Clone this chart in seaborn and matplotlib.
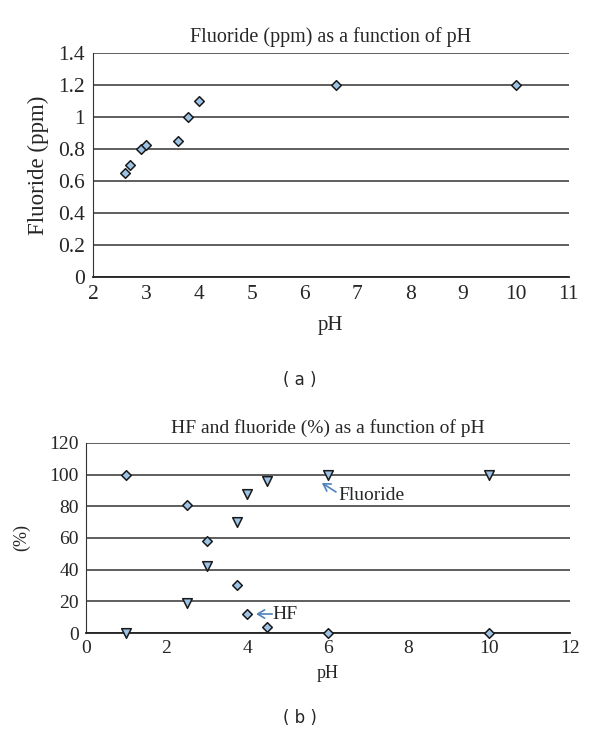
import numpy as np
import pandas as pd
import matplotlib
matplotlib.use('Agg')
import matplotlib.pyplot as plt
import seaborn as sns

# Data
ph_a = [2.6, 2.7, 2.9, 3.0, 3.6, 3.8, 4.0, 6.6, 10.0]
fluoride_ppm = [0.65, 0.70, 0.80, 0.83, 0.85, 1.00, 1.10, 1.20, 1.20]

ph_b = [1.0, 2.5, 3.0, 3.75, 4.0, 4.5, 6.0, 10.0]
hf_pct = [100, 81, 58, 30, 12, 4, 0, 0]
fluoride_pct = [0, 19, 42, 70, 88, 96, 100, 100]

sns.set_style('white')
plt.rcParams['font.family'] = ['Liberation Serif', 'DejaVu Serif']

fill = '#9dc3e6'
edge = '#1a1a1a'
arrow_col = '#4f81bd'

fig = plt.figure(figsize=(6, 7.43), dpi=100)
ax1 = fig.add_axes([0.155, 0.627, 0.793, 0.301])
ax2 = fig.add_axes([0.143, 0.148, 0.807, 0.256])

# (a)
df_a = pd.DataFrame({'pH': ph_a, 'Fluoride (ppm)': fluoride_ppm})
sns.scatterplot(data=df_a, x='pH', y='Fluoride (ppm)', ax=ax1, marker='D', s=24,
                color=fill, edgecolor=edge, linewidth=1.1, zorder=3, clip_on=False)
ax1.set_xlim(2, 11)
ax1.set_ylim(0, 1.4)
ax1.set_xticks(range(2, 12))
ax1.set_yticks(np.arange(0, 1.41, 0.2))
ax1.set_yticklabels(['0', '0.2', '0.4', '0.6', '0.8', '1', '1.2', '1.4'])
ax1.set_title('Fluoride (ppm) as a function of pH', fontsize=14.5, pad=8)
ax1.set_xlabel('pH', fontsize=15, labelpad=8)
ax1.set_ylabel('Fluoride (ppm)', fontsize=16.5, labelpad=6)
ax1.tick_params(labelsize=15.5, length=0, pad=6)

# (b)
df_hf = pd.DataFrame({'pH': ph_b, 'pct': hf_pct})
df_fl = pd.DataFrame({'pH': ph_b, 'pct': fluoride_pct})
sns.scatterplot(data=df_hf, x='pH', y='pct', ax=ax2, marker='D', s=24,
                color=fill, edgecolor=edge, linewidth=1.1, zorder=3, clip_on=False)
sns.scatterplot(data=df_fl, x='pH', y='pct', ax=ax2, marker='v', s=48,
                color=fill, edgecolor=edge, linewidth=1.1, zorder=3, clip_on=False)
ax2.set_xlim(0, 12)
ax2.set_ylim(0, 120)
ax2.set_xticks(range(0, 13, 2))
ax2.set_yticks(range(0, 121, 20))
ax2.set_title('HF and fluoride (%) as a function of pH', fontsize=14, pad=7)
ax2.set_xlabel('pH', fontsize=13, labelpad=6)
ax2.set_ylabel('(%)', fontsize=13, labelpad=14)
ax2.tick_params(labelsize=14, length=0, pad=5)

# labels with thin blue arrows
arrow = dict(arrowstyle='->,head_length=0.5,head_width=0.3', color=arrow_col, lw=1.2,
             shrinkA=0, shrinkB=0)
ax2.annotate('', xy=(5.85, 94.7), xytext=(6.2, 89), arrowprops=arrow)
ax2.text(6.25, 86.5, 'Fluoride', fontsize=14, va='center', ha='left')
ax2.annotate('', xy=(4.22, 12), xytext=(4.62, 12), arrowprops=arrow)
ax2.text(4.63, 11.5, 'HF', fontsize=14, va='center', ha='left')

for ax in (ax1, ax2):
    ax.yaxis.grid(True, color='#333333', lw=1.1)
    ax.set_axisbelow(True)
    for side in ('top', 'right'):
        ax.spines[side].set_visible(False)
    ax.spines['left'].set_color('#333333')
    ax.spines['bottom'].set_color('#222222')
    ax.spines['bottom'].set_linewidth(1.3)

fig.text(0.5, 1 - 380 / 743, '( a )', ha='center', va='center', fontsize=12, family='DejaVu Sans')
fig.text(0.5, 1 - 718 / 743, '( b )', ha='center', va='center', fontsize=12, family='DejaVu Sans')

fig.savefig('out.png', dpi=100)
